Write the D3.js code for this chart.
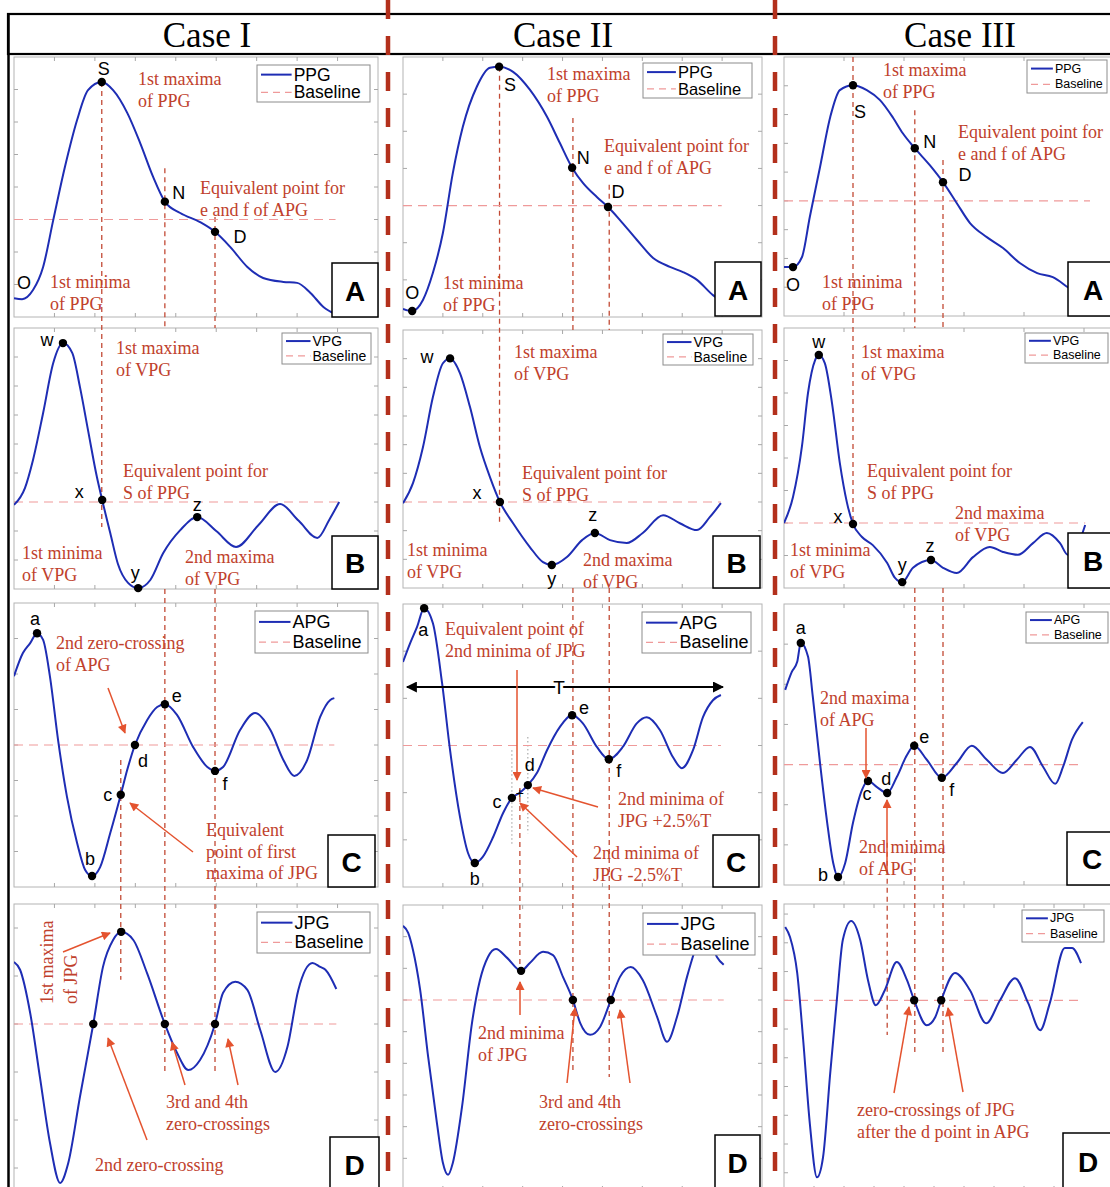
<!DOCTYPE html>
<html lang="en">
<head>
<meta charset="UTF-8">
<title>PPG, VPG, APG and JPG fiducial points</title>
<script src="https://d3js.org/d3.v7.min.js"></script>
<style>
  body { margin: 0; background: #fff; }
  svg text { font-family: "Liberation Sans", Arial, sans-serif; }
  .note { font-family: "Liberation Serif", "Times New Roman", serif; fill: #c0412c; font-size: 18px; }
  .head { font-family: "Liberation Serif", "Times New Roman", serif; font-size: 35px; fill: #000; }
</style>
</head>
<body>
<div id="chart"></div>
<script>
const caseNames = ["Case I", "Case II", "Case III"];
const signalNames = ["PPG", "VPG", "APG", "JPG"];
const panelLetters = ["A", "B", "C", "D"];

// curves: [time, amplitude]
const ppg1 = [[0,0.58],[20,0.55],[47,0.83],[72,1.54],[97,2.98],[126,4.62],[156,6.06],[183,6.98],[217,7.23],[245,6.98],[280,6.28],[312,5.35],[344,4.31],[373,3.55],[411,3.2],[460,2.92],[497,2.62],[535,2.15],[577,1.54],[616,1.2],[666,1.08],[700,1.05],[733,0.74],[765,0.31],[795,0.09]];
const vpg1 = [[0,2.9],[27,3.48],[47,4.45],[72,6.07],[97,7.79],[121,8.48],[144,8.14],[163,6.97],[183,5.48],[205,3.86],[218,3.07],[238,1.93],[257,0.86],[282,0.21],[307,0.03],[337,0.31],[369,1.24],[411,2.03],[453,2.48],[500,2.0],[549,1.45],[604,2.2],[658,2.93],[704,2.35],[750,1.76],[780,2.4],[804,3.0]];
const apg1 = [[0,5.94],[22,6.59],[40,6.87],[57,7.15],[72,6.96],[89,5.92],[109,4.14],[131,2.54],[156,1.24],[176,0.48],[193,0.31],[213,0.56],[238,1.52],[264,2.6],[280,3.3],[299,4.0],[329,4.7],[354,5.07],[373,5.15],[403,4.85],[443,3.94],[478,3.38],[497,3.27],[517,3.38],[559,4.42],[596,4.9],[634,4.42],[666,3.58],[693,3.13],[725,3.58],[757,4.79],[782,5.27],[792,5.32]];
const jpg1 = [[0,1.29],[15,1.13],[40,0.23],[64,-1.1],[89,-2.48],[114,-3.31],[134,-2.9],[163,-1.52],[196,0],[220,1.19],[245,1.75],[265,1.92],[295,1.75],[329,1.06],[373,0],[403,-0.6],[431,-0.96],[460,-0.75],[497,0],[517,0.65],[547,0.88],[577,0.71],[609,-0.13],[646,-1.0],[676,-0.48],[703,0.71],[738,1.27],[757,1.19],[770,1.13],[797,0.73]];

const ppg2 = [[0,0.22],[23,0.16],[50,0.46],[75,1.19],[100,2.26],[125,3.88],[150,5.12],[185,6.2],[218,6.71],[241,6.74],[276,6.6],[318,6.12],[361,5.39],[393,4.69],[424,4.02],[451,3.61],[486,3.23],[514,2.96],[544,2.61],[586,2.08],[627,1.59],[669,1.35],[702,1.21],[737,1.0],[777,0.59],[799,0.43]];
const vpg2 = [[0,2.96],[25,3.66],[50,4.91],[75,6.66],[100,7.84],[118,8.01],[143,7.49],[168,6.31],[193,4.91],[218,3.87],[243,3.0],[276,2.26],[318,1.43],[351,0.9],[373,0.8],[411,1.08],[449,1.67],[481,1.92],[519,1.67],[561,1.57],[601,1.92],[652,2.54],[694,2.26],[737,2.02],[769,2.47],[797,2.96]];
const apg2 = [[0,4.77],[18,5.17],[35,5.51],[53,5.91],[75,5.59],[98,4.32],[118,2.9],[143,1.48],[163,0.72],[180,0.51],[200,0.64],[226,1.06],[251,1.57],[273,1.89],[293,2.0],[313,2.16],[336,2.42],[361,2.9],[393,3.39],[424,3.64],[451,3.47],[486,2.97],[516,2.71],[551,2.97],[586,3.47],[611,3.6],[644,3.33],[677,2.75],[699,2.52],[727,2.9],[752,3.6],[777,3.96],[797,4.07]];
const jpg2 = [[0,2.34],[13,2.12],[25,1.58],[43,0.32],[63,-1.79],[85,-3.88],[100,-5.14],[113,-5.52],[125,-5.14],[148,-3.37],[173,-0.72],[193,0.63],[213,1.36],[233,1.61],[261,1.33],[296,0.92],[318,1.17],[351,1.52],[376,1.42],[401,0.73],[426,0],[444,-0.72],[469,-1.1],[494,-0.85],[521,0],[544,0.73],[571,1.04],[601,0.63],[637,-0.53],[662,-1.32],[687,-0.53],[712,0.73],[732,1.58],[752,2.27],[769,1.9],[787,1.36],[804,1.11]];

const ppg3 = [[0,1.7],[15,1.7],[30,2.05],[43,3.44],[60,5.17],[77,6.91],[93,7.85],[115,8.02],[138,7.85],[160,7.5],[182,6.88],[198,6.35],[218,5.83],[243,5.24],[265,4.65],[288,3.92],[310,3.23],[338,2.74],[365,2.36],[393,1.84],[422,1.49],[448,1.35],[473,1.0],[510,0.45]];
const vpg3 = [[0,2.0],[15,2.8],[30,4.37],[40,6.0],[52,7.02],[58,7.17],[68,6.92],[80,5.69],[93,3.85],[105,2.62],[115,1.97],[130,1.57],[148,1.32],[172,0.77],[185,0.31],[197,0.18],[215,0.62],[245,0.86],[265,0.62],[288,0.46],[315,0.95],[343,1.26],[365,1.11],[390,1.02],[415,1.38],[438,1.69],[460,1.38],[473,1.02],[488,1.26],[502,1.94]];
const apg3 = [[2,4.86],[13,5.31],[22,5.56],[28,6.03],[40,5.69],[48,4.69],[60,3.04],[72,1.55],[82,0.55],[90,0.2],[102,0.55],[115,1.55],[130,2.37],[140,2.59],[155,2.44],[172,2.29],[188,2.69],[205,3.24],[217,3.47],[238,3.12],[263,2.67],[288,3.04],[313,3.47],[338,3.12],[365,2.79],[388,3.12],[410,3.44],[432,2.94],[452,2.52],[465,2.94],[480,3.62],[498,4.06]];
const jpg3 = [[2,2.55],[10,2.2],[22,0.95],[32,-1.39],[43,-4.28],[55,-6.16],[65,-5.47],[77,-2.54],[88,0],[98,2.1],[112,2.76],[127,2.1],[140,0.7],[153,-0.17],[168,0.35],[188,1.33],[205,0.7],[217,0],[238,-0.87],[252,-0.59],[262,0],[285,0.95],[310,0.35],[337,-0.8],[360,0],[385,0.77],[407,-0.1],[427,-1.04],[443,-0.1],[468,1.82],[480,1.82],[495,1.29]];

const curves = [[ppg1, vpg1, apg1, jpg1], [ppg2, vpg2, apg2, jpg2], [ppg3, vpg3, apg3, jpg3]];

// axis ranges and baseline level per panel
const yDomains = [
  [[0, 8], [0, 9], [0, 8], [-3.5, 2.5]],
  [[0, 7], [0, 9], [0, 6], [-6, 3]],
  [[0, 9], [0, 8], [0, 7], [-6.6, 3.35]]
];
const baselines = [[3, 3, 4, 0], [3, 3, 3, 0], [4, 2, 3, 0]];
const xMax = [900, 900, 600];
const xTickSteps = [[100, 100, 100, 100], [100, 100, 100, 100], [100, 100, 100, 50]];

// fiducial points: [label, time, amplitude, label dx, label dy, dot]
const points = [
  [
    [["S",217,7.23,2,-13,1],["N",373,3.55,14,-9,1],["D",497,2.62,25,5,1],["O",25,1.05,0,0,0]],
    [["w",121,8.48,-16,-3,1],["x",218,3.07,-23,-8,1],["y",307,0.03,-3,-15,1],["z",453,2.48,0,-12,1]],
    [["a",57,7.15,-2,-14,1],["b",193,0.31,-2,-17,1],["c",264,2.6,-13,0,1],["d",299,4.0,8,16,1],["e",373,5.15,12,-8,1],["f",497,3.27,10,13,1]],
    [["",196,0,0,0,1],["",265,1.92,0,0,1],["",373,0,0,0,1],["",497,0,0,0,1]]
  ],
  [
    [["O",23,0.16,0,-18,1],["S",241,6.74,11,18,1],["N",424,4.02,11,-10,1],["D",514,2.96,10,-15,1]],
    [["w",118,8.01,-23,-1,1],["x",243,3.0,-23,-9,1],["y",373,0.8,0,14,1],["z",481,1.92,-2,-18,1]],
    [["a",53,5.91,-1,22,1],["b",180,0.51,0,16,1],["c",273,1.89,-15,4,1],["d",313,2.16,2,-20,1],["e",424,3.64,12,-7,1],["f",516,2.71,10,12,1],["+",293,2.0,0,0,0]],
    [["",296,0.92,0,0,1],["",426,0,0,0,1],["",521,0,0,0,1]]
  ],
  [
    [["O",15,1.7,0,18,1],["S",115,8.02,7,27,1],["N",218,5.83,15,-6,1],["D",265,4.65,22,-7,1]],
    [["w",58,7.17,0,-13,1],["x",115,1.97,-15,-7,1],["y",197,0.18,0,-17,1],["z",245,0.86,-1,-14,1]],
    [["a",28,6.03,0,-15,1],["b",90,0.2,-15,-2,1],["c",140,2.59,-1,13,1],["d",172,2.29,-1,-14,1],["e",217,3.47,10,-9,1],["f",263,2.67,10,12,1]],
    [["",217,0,0,0,1],["",262,0,0,0,1]]
  ]
];

// vertical guides: time, [row, amplitude] start, [row, amplitude] end, rows they pass behind
const guides = [
  [[217,[0,7.23],[1,2.14],[]], [373,[0,4.58],[3,-1.0],[1]], [497,[0,3.08],[3,-1.06],[1]], [264,[2,3.58],[3,0.92],[]]],
  [[242,[0,6.74],[1,2.2],[]], [426,[0,5.36],[3,-2.27],[1]], [517,[0,3.56],[3,-2.43],[1]], [293,[2,2.1],[3,0.73],[]]],
  [[115,[0,9],[1,2.0],[]], [218,[0,7.15],[3,-1.84],[1]], [265,[0,5.42],[3,-1.84],[1]], [172,[2,1.05],[3,-1.21],[]]]
];
// dotted +/-2.5%T window in Case II APG: time, from, to
const windowLines = [[273, 2.9, 0.89], [313, 3.18, 1.14]];
const periodT = {from: 10, to: 802, level: 4.24, labelAt: 391};

// ---- layout (page pixels) ----
const W = 1110, H = 1187;
const colFrames = [{left: 14, right: 378}, {left: 403, right: 762}, {left: 784, right: 1144}];
const rowFrames = [
  [[57, 317], [328, 589], [603, 887], [904, 1192]],
  [[57, 317], [330, 588], [604, 887], [905, 1190]],
  [[57, 316], [328, 588], [604, 885], [904, 1190]]
];
const legendBoxes = [
  [[257,65,113,37,17.5], [282,333,89,31,14], [255,611,113,42,18], [257,912,113,41,18]],
  [[643,63,109,35,16.5], [663,334,90,31,14], [642,612,109,41,18], [643,913,112,42,18]],
  [[1027,60,80,33,12.5], [1025,333,83,30,12.5], [1026,612,82,31,12.5], [1022,910,82,32,12.5]]
];
const letterBoxes = [
  [[332,263,46,54], [332,536,46,53], [328,835,47,52], [330,1137,49,55]],
  [[715,262,46,54], [713,536,47,52], [713,835,46,52], [715,1135,45,55]],
  [[1068,262,50,54], [1068,533,50,55], [1067,832,50,53], [1063,1133,50,57]]
];
const notes = [
  [138,79,["1st maxima","of PPG"]], [200,188,["Equivalent point for","e and f of APG"]], [50,282,["1st minima","of PPG"]],
  [116,348,["1st maxima","of VPG"]], [123,471,["Equivalent point for","S of PPG"]], [22,553,["1st minima","of VPG"]], [185,557,["2nd maxima","of VPG"]],
  [56,643,["2nd zero-crossing","of APG"]], [206,830,["Equivalent","point of first","maxima of JPG"]],
  [95,1165,["2nd zero-crossing"]], [166,1102,["3rd and 4th","zero-crossings"]],
  [547,74,["1st maxima","of PPG"]], [604,146,["Equivalent point for","e and f of APG"]], [443,283,["1st minima","of PPG"]],
  [514,352,["1st maxima","of VPG"]], [522,473,["Equivalent point for","S of PPG"]], [407,550,["1st minima","of VPG"]], [583,560,["2nd maxima","of VPG"]],
  [445,629,["Equivalent point of","2nd minima of JPG"]], [618,799,["2nd minima of","JPG +2.5%T"]], [593,853,["2nd minima of","JPG -2.5%T"]],
  [478,1033,["2nd minima","of JPG"]], [539,1102,["3rd and 4th","zero-crossings"]],
  [883,70,["1st maxima","of PPG"]], [958,132,["Equivalent point for","e and f of APG"]], [822,282,["1st minima","of PPG"]],
  [861,352,["1st maxima","of VPG"]], [867,471,["Equivalent point for","S of PPG"]], [790,550,["1st minima","of VPG"]], [955,513,["2nd maxima","of VPG"]],
  [820,698,["2nd maxima","of APG"]], [859,847,["2nd minima","of APG"]],
  [857,1110,["zero-crossings of JPG","after the d point in APG"]]
];
const arrows = [
  [108,688,125,733], [193,852,130,803],
  [63,952,110,933], [147,1140,108,1038], [185,1085,172,1042], [238,1085,228,1039],
  [517,670,517,780], [598,807,533,788], [577,857,520,803],
  [520,1015,520,982], [567,1083,575,1008], [630,1083,620,1010],
  [866,728,866,778], [887,870,887,800],
  [894,1093,909,1007], [963,1092,948,1008]
];

const svg = d3.select("#chart").append("svg")
  .attr("width", W).attr("height", H)
  .style("display", "block");

const defs = svg.append("defs");
defs.append("marker").attr("id", "head")
  .attr("viewBox", "0 0 10 10").attr("refX", 9).attr("refY", 5)
  .attr("markerWidth", 11).attr("markerHeight", 9)
  .attr("markerUnits", "userSpaceOnUse").attr("orient", "auto")
  .append("path").attr("d", "M0,0L10,5L0,10z").attr("fill", "#e4532f");
defs.append("marker").attr("id", "blackhead")
  .attr("viewBox", "0 0 10 10").attr("refX", 9).attr("refY", 5)
  .attr("markerWidth", 14).attr("markerHeight", 11)
  .attr("markerUnits", "userSpaceOnUse").attr("orient", "auto-start-reverse")
  .append("path").attr("d", "M0,0L10,5L0,10z").attr("fill", "#000");

// build panels with their scales
const panels = caseNames.map((cn, c) => signalNames.map((sn, r) => {
  const [top, bottom] = rowFrames[c][r];
  const {left, right} = colFrames[c];
  const x = d3.scaleLinear().domain([0, xMax[c]]).range([left, right]);
  const y = d3.scaleLinear().domain(yDomains[c][r]).range([bottom, top]);
  return {c, r, top, bottom, left, right, x, y};
}));

const gFrames = svg.append("g");
const gGuides = svg.append("g");
const gMarks = svg.append("g");
const gOver = svg.append("g");

panels.flat().forEach(p => {
  const id = `clip${p.c}${p.r}`;
  defs.append("clipPath").attr("id", id)
    .append("rect").attr("x", p.left).attr("y", p.top)
    .attr("width", p.right - p.left).attr("height", p.bottom - p.top);

  gFrames.append("rect")
    .attr("x", p.left).attr("y", p.top)
    .attr("width", p.right - p.left).attr("height", p.bottom - p.top)
    .attr("fill", "#fff").attr("stroke", "#b4b4b4").attr("stroke-width", 1);

  const step = xTickSteps[p.c][p.r];
  const xt = d3.range(step, xMax[p.c], step);
  const [y0, y1] = yDomains[p.c][p.r];
  const yt = d3.range(Math.ceil(y0), Math.floor(y1) + 1).filter(v => v > y0 + 0.3 && v < y1 - 0.3);
  const tk = gFrames.append("g").attr("stroke", "#a8a8a8").attr("stroke-width", 1);
  xt.forEach(v => {
    tk.append("line").attr("x1", p.x(v)).attr("x2", p.x(v)).attr("y1", p.top).attr("y2", p.top + 4);
    tk.append("line").attr("x1", p.x(v)).attr("x2", p.x(v)).attr("y1", p.bottom).attr("y2", p.bottom - 4);
  });
  yt.forEach(v => {
    tk.append("line").attr("x1", p.left).attr("x2", p.left + 4).attr("y1", p.y(v)).attr("y2", p.y(v));
    tk.append("line").attr("x1", p.right).attr("x2", p.right - 4).attr("y1", p.y(v)).attr("y2", p.y(v));
  });

  const data = curves[p.c][p.r];
  const g = gMarks.append("g").attr("clip-path", `url(#${id})`);
  g.append("line")
    .attr("x1", p.x(0)).attr("x2", p.x(data[data.length - 1][0]))
    .attr("y1", p.y(baselines[p.c][p.r])).attr("y2", p.y(baselines[p.c][p.r]))
    .attr("stroke", "#ef9a9a").attr("stroke-width", 1.2).attr("stroke-dasharray", "9,6");

  const line = d3.line().x(d => p.x(d[0])).y(d => p.y(d[1])).curve(d3.curveMonotoneX);
  g.append("path").datum(data)
    .attr("d", line).attr("fill", "none")
    .attr("stroke", "#1e2db4").attr("stroke-width", 2);

  points[p.c][p.r].forEach(([lab, t, v, dx, dy, dot]) => {
    if (dot) {
      gMarks.append("circle").attr("cx", p.x(t)).attr("cy", p.y(v)).attr("r", 4.2).attr("fill", "#000");
    }
    if (lab) {
      gMarks.append("text")
        .attr("x", p.x(t) + dx).attr("y", p.y(v) + dy)
        .attr("text-anchor", "middle").attr("dominant-baseline", "central")
        .style("font-size", lab === "+" ? "14px" : "18px")
        .text(lab);
    }
  });

  // legend
  const [lx, ly, lw, lh, fs] = legendBoxes[p.c][p.r];
  const lg = gOver.append("g");
  lg.append("rect").attr("x", lx).attr("y", ly).attr("width", lw).attr("height", lh)
    .attr("fill", "#fff").attr("stroke", "#8c8c8c").attr("stroke-width", 1);
  const r1 = ly + lh * 0.26, r2 = ly + lh * 0.74, sl = fs * 1.75;
  lg.append("line").attr("x1", lx + 4).attr("x2", lx + 4 + sl).attr("y1", r1).attr("y2", r1)
    .attr("stroke", "#1e2db4").attr("stroke-width", 2);
  lg.append("line").attr("x1", lx + 4).attr("x2", lx + 4 + sl).attr("y1", r2).attr("y2", r2)
    .attr("stroke", "#ef9a9a").attr("stroke-width", 1.2).attr("stroke-dasharray", "7,5");
  lg.append("text").attr("x", lx + 6 + sl).attr("y", r1).attr("dominant-baseline", "central")
    .style("font-size", fs + "px").text(signalNames[p.r]);
  lg.append("text").attr("x", lx + 6 + sl).attr("y", r2).attr("dominant-baseline", "central")
    .style("font-size", fs + "px").text("Baseline");

  // panel letter
  const [bx, by, bw, bh] = letterBoxes[p.c][p.r];
  gOver.append("rect").attr("x", bx).attr("y", by).attr("width", bw).attr("height", bh)
    .attr("fill", "#fff").attr("stroke", "#000").attr("stroke-width", 1.5);
  gOver.append("text").attr("x", bx + bw / 2).attr("y", by + bh / 2 + 1)
    .attr("text-anchor", "middle").attr("dominant-baseline", "central")
    .style("font-size", "28px").style("font-weight", "bold")
    .text(panelLetters[p.r]);
});

// vertical guides across panels, hidden where they run behind a panel
guides.forEach((list, c) => {
  list.forEach(([t, [ra, va], [rb, vb], hide]) => {
    const px = panels[c][ra].x(t);
    let segs = [[panels[c][ra].y(va), panels[c][rb].y(vb)]];
    hide.forEach(r => {
      const top = panels[c][r].top, bot = panels[c][r].bottom;
      segs = segs.flatMap(([a, b]) => {
        const out = [];
        if (a < top) out.push([a, Math.min(b, top)]);
        if (b > bot) out.push([Math.max(a, bot), b]);
        return out;
      });
    });
    segs.forEach(([a, b]) => {
      gGuides.append("line").attr("x1", px).attr("x2", px).attr("y1", a).attr("y2", b)
        .attr("stroke", "#c24a35").attr("stroke-width", 1.3).attr("stroke-dasharray", "5,4");
    });
  });
});

const apgII = panels[1][2];
windowLines.forEach(([t, a, b]) => {
  gGuides.append("line").attr("x1", apgII.x(t)).attr("x2", apgII.x(t))
    .attr("y1", apgII.y(a)).attr("y2", apgII.y(b))
    .attr("stroke", "#999").attr("stroke-width", 1).attr("stroke-dasharray", "1.5,2.5");
});
gMarks.append("line")
  .attr("x1", apgII.x(periodT.from)).attr("x2", apgII.x(periodT.to))
  .attr("y1", apgII.y(periodT.level)).attr("y2", apgII.y(periodT.level))
  .attr("stroke", "#000").attr("stroke-width", 2)
  .attr("marker-start", "url(#blackhead)").attr("marker-end", "url(#blackhead)");
gMarks.append("text")
  .attr("x", apgII.x(periodT.labelAt)).attr("y", apgII.y(periodT.level))
  .attr("text-anchor", "middle").attr("dominant-baseline", "central")
  .attr("stroke", "#fff").attr("stroke-width", 6).style("paint-order", "stroke")
  .style("font-size", "19px").text("T");

// annotations
const gNotes = svg.append("g");
notes.forEach(([x, y, lines]) => {
  lines.forEach((s, i) => {
    gNotes.append("text").attr("class", "note")
      .attr("x", x).attr("y", y + i * 21.5)
      .attr("dominant-baseline", "central").text(s);
  });
});
["1st maxima", "of JPG"].forEach((s, i) => {
  gNotes.append("text").attr("class", "note")
    .attr("transform", `translate(${47 + i * 24},1004) rotate(-90)`)
    .attr("dominant-baseline", "central").text(s);
});
arrows.forEach(([x1, y1, x2, y2]) => {
  gNotes.append("line").attr("x1", x1).attr("y1", y1).attr("x2", x2).attr("y2", y2)
    .attr("stroke", "#e4532f").attr("stroke-width", 1.5).attr("marker-end", "url(#head)");
});

// header row and column separators
const hd = svg.append("g");
hd.append("rect").attr("x", 8).attr("y", 14).attr("width", W).attr("height", 40)
  .attr("fill", "#fff").attr("stroke", "#000").attr("stroke-width", 2.2);
hd.append("line").attr("x1", 8.5).attr("x2", 8.5).attr("y1", 14).attr("y2", H)
  .attr("stroke", "#000").attr("stroke-width", 2.5);
[207, 563, 960].forEach((cx, i) => {
  hd.append("text").attr("class", "head").attr("x", cx).attr("y", 35)
    .attr("text-anchor", "middle").attr("dominant-baseline", "central").text(caseNames[i]);
});
[388, 775].forEach(x => {
  hd.append("line").attr("x1", x).attr("x2", x).attr("y1", 0).attr("y2", H)
    .attr("stroke", "#b3301c").attr("stroke-width", 4.5).attr("stroke-dasharray", "19,17");
});
</script>
</body>
</html>
